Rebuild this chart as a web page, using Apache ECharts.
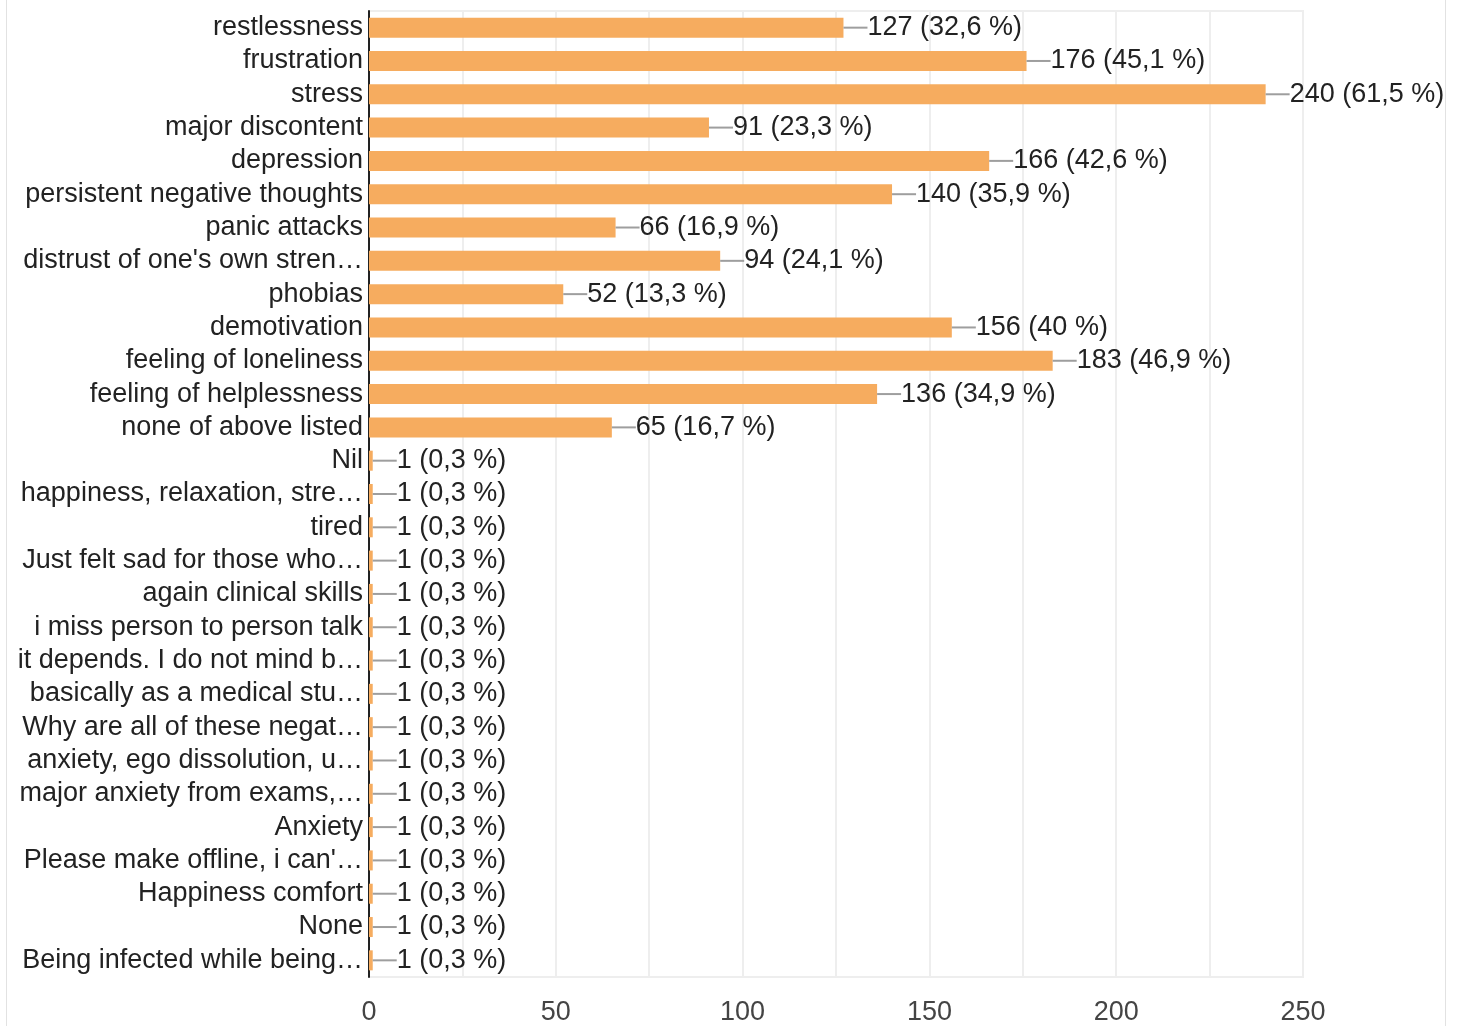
<!DOCTYPE html>
<html>
<head>
<meta charset="utf-8">
<script src="https://cdn.jsdelivr.net/npm/echarts@6/dist/echarts.min.js"></script>
<style>
  html, body { margin: 0; padding: 0; background: #fff; }
  #chart { width: 1464px; height: 1026px; }
</style>
</head>
<body>
<div id="chart"></div>
<script>
  var categories = [
    "restlessness", "frustration", "stress", "major discontent", "depression",
    "persistent negative thoughts", "panic attacks", "distrust of one's own stren\u2026",
    "phobias", "demotivation", "feeling of loneliness", "feeling of helplessness",
    "none of above listed", "Nil", "happiness, relaxation, stre\u2026", "tired",
    "Just felt sad for those who\u2026", "again clinical skills", "i miss person to person talk",
    "it depends. I do not mind b\u2026", "basically as a medical stu\u2026", "Why are all of these negat\u2026",
    "anxiety, ego dissolution, u\u2026", "major anxiety from exams,\u2026", "Anxiety",
    "Please make offline, i can'\u2026", "Happiness comfort", "None", "Being infected while being\u2026"
  ];
  var counts = [127, 176, 240, 91, 166, 140, 66, 94, 52, 156, 183, 136, 65,
    1, 1, 1, 1, 1, 1, 1, 1, 1, 1, 1, 1, 1, 1, 1, 1];
  var percents = ["32,6", "45,1", "61,5", "23,3", "42,6", "35,9", "16,9", "24,1", "13,3", "40", "46,9", "34,9", "16,7",
    "0,3", "0,3", "0,3", "0,3", "0,3", "0,3", "0,3", "0,3", "0,3", "0,3", "0,3", "0,3", "0,3", "0,3", "0,3", "0,3"];
  var xTicks = [0, 50, 100, 150, 200, 250];

  var chart = echarts.init(document.getElementById("chart"));
  var option = {
    backgroundColor: "#ffffff",
    animation: false,
    textStyle: { fontFamily: "'Liberation Sans', Arial, sans-serif" },
    graphic: [
      { type: "rect", shape: { x: 6, y: 0, width: 1, height: 1026 }, style: { fill: "#e2e2e2" } },
      { type: "rect", shape: { x: 1445, y: 0, width: 1, height: 1026 }, style: { fill: "#e2e2e2" } }
    ],
    grid: {
      left: 369,
      right: 161,
      top: 11,
      bottom: 46,
      show: true,
      borderColor: "#eeeeee",
      borderWidth: 2
    },
    xAxis: {
      type: "value",
      min: xTicks[0],
      max: xTicks[xTicks.length - 1],
      interval: 50,
      axisLine: { show: false },
      axisTick: { show: false },
      axisLabel: { color: "#444", fontSize: 27, margin: 22 },
      splitLine: { show: true, lineStyle: { color: "#eeeeee", width: 2 } },
      minorTick: { show: false, splitNumber: 2 },
      minorSplitLine: { show: true, lineStyle: { color: "#eeeeee", width: 2 } }
    },
    yAxis: {
      type: "category",
      data: categories,
      inverse: true,
      axisLine: { show: true, lineStyle: { color: "#222", width: 2 } },
      axisTick: { show: false },
      axisLabel: { color: "#222", fontSize: 27, margin: 6, interval: 0 }
    },
    series: [
      {
        type: "bar",
        data: counts,
        barWidth: 20,
        itemStyle: { color: "#f6ac5f" },
        label: {
          show: true,
          position: "right",
          distance: 0,
          formatter: function (p) {
            return "{l|}{t|" + counts[p.dataIndex] + " (" + percents[p.dataIndex] + " %)}";
          },
          rich: {
            l: { width: 24, height: 2, backgroundColor: "#9e9e9e" },
            t: { fontSize: 27, color: "#222" }
          }
        }
      }
    ]
  };
  chart.setOption(option);
</script>
</body>
</html>
